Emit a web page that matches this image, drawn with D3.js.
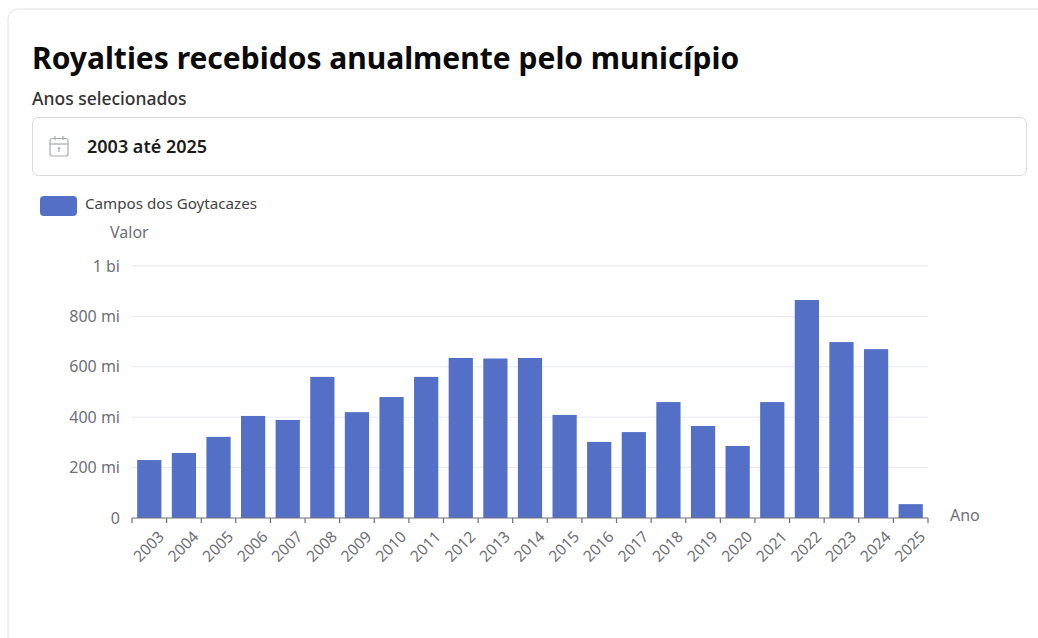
<!DOCTYPE html>
<html>
<head>
<meta charset="utf-8">
<script src="https://cdn.jsdelivr.net/npm/d3@7"></script>
<style>
html, body { margin: 0; padding: 0; background: #fff; overflow: hidden; }
svg { display: block; font-family: "Noto Sans", "Open Sans", sans-serif; }
</style>
</head>
<body>
<svg id="chart" width="1038" height="638"></svg>
<script>
var years = ["2003","2004","2005","2006","2007","2008","2009","2010","2011","2012","2013","2014","2015","2016","2017","2018","2019","2020","2021","2022","2023","2024","2025"];
var values = [230,258,322,405,389,560,420,480,560,635,633,635,409,302,341,460,365,286,460,865,698,670,55];
var yTicks = [0,200,400,600,800,1000];
var yTickLabels = ["0","200 mi","400 mi","600 mi","800 mi","1 bi"];

var svg = d3.select("#chart");
var margin = { top: 266, right: 110, bottom: 120, left: 132 };
var width = +svg.attr("width") - margin.left - margin.right;
var height = +svg.attr("height") - margin.top - margin.bottom;

// card border
svg.append("rect")
	.attr("x", 8).attr("y", 9)
	.attr("width", 1100).attr("height", 700)
	.attr("rx", 10)
	.attr("fill", "#fff")
	.attr("stroke", "#e2e2e2");

svg.append("text")
	.attr("x", 32).attr("y", 69)
	.attr("font-size", 30).attr("font-weight", 700)
	.attr("fill", "#0a0a0a")
	.text("Royalties recebidos anualmente pelo município");

svg.append("text")
	.attr("x", 32).attr("y", 105)
	.attr("font-size", 17.5).attr("font-weight", 500)
	.attr("fill", "#333")
	.text("Anos selecionados");

// date picker
svg.append("rect")
	.attr("x", 32.5).attr("y", 117.5)
	.attr("width", 994).attr("height", 58)
	.attr("rx", 6)
	.attr("fill", "#fff")
	.attr("stroke", "#d9d9d9");

var icon = svg.append("g")
	.attr("transform", "translate(50,136)")
	.attr("fill", "none")
	.attr("stroke", "#a6acb3")
	.attr("stroke-width", 1.2);
icon.append("rect").attr("x", 0).attr("y", 2.5).attr("width", 18).attr("height", 17.5).attr("rx", 2);
icon.append("line").attr("x1", 0).attr("x2", 18).attr("y1", 8).attr("y2", 8);
icon.append("line").attr("x1", 5).attr("x2", 5).attr("y1", 0).attr("y2", 4);
icon.append("line").attr("x1", 13).attr("x2", 13).attr("y1", 0).attr("y2", 4);
icon.append("line").attr("x1", 7.5).attr("x2", 10.5).attr("y1", 12).attr("y2", 12);
icon.append("line").attr("x1", 9).attr("x2", 9).attr("y1", 12).attr("y2", 16);

svg.append("text")
	.attr("x", 87).attr("y", 153)
	.attr("font-size", 18).attr("font-weight", 600)
	.attr("fill", "#1c1c1c")
	.text("2003 até 2025");

// legend
svg.append("rect")
	.attr("x", 40).attr("y", 196)
	.attr("width", 37).attr("height", 20)
	.attr("rx", 4)
	.attr("fill", "#5470c6");
svg.append("text")
	.attr("x", 85).attr("y", 209)
	.attr("font-size", 13.5)
	.attr("fill", "#444")
	.attr("textLength", 172)
	.attr("lengthAdjust", "spacingAndGlyphs")
	.text("Campos dos Goytacazes");

var g = svg.append("g")
	.attr("transform", "translate(" + margin.left + "," + margin.top + ")");

var x = d3.scaleBand().domain(years).range([0, width - 0]).paddingInner(0.3).paddingOuter(0.15);
var y = d3.scaleLinear().domain([0, 1000]).range([height, 0]);

// gridlines
g.append("g")
	.selectAll("line")
	.data(yTicks.slice(1))
	.join("line")
	.attr("x1", 0).attr("x2", width)
	.attr("y1", function(d) { return y(d); })
	.attr("y2", function(d) { return y(d); })
	.attr("stroke", "#e6e9f2");

g.selectAll(".bar")
	.data(values)
	.join("rect")
	.attr("class", "bar")
	.attr("x", function(d, i) { return x(years[i]); })
	.attr("y", function(d) { return y(d); })
	.attr("width", x.bandwidth())
	.attr("height", function(d) { return height - y(d); })
	.attr("fill", "#5470c6");

// y axis
var yAxis = g.append("g")
	.call(d3.axisLeft(y).tickValues(yTicks).tickSize(0).tickPadding(12).tickFormat(function(d, i) { return yTickLabels[i]; }));
yAxis.select(".domain").remove();
yAxis.selectAll("text")
	.attr("font-family", "\"Noto Sans\", sans-serif")
	.attr("font-size", 16)
	.attr("fill", "#6e7079");

// x axis, ticks sit on the band edges
var step = x.step();
var xAxis = g.append("g").attr("transform", "translate(0," + height + ")");
xAxis.append("line")
	.attr("x1", 0).attr("x2", width)
	.attr("stroke", "#6e7079").attr("stroke-width", 1.2);
xAxis.selectAll(".edge")
	.data(d3.range(years.length + 1))
	.join("line")
	.attr("class", "edge")
	.attr("x1", function(d) { return d * step; })
	.attr("x2", function(d) { return d * step; })
	.attr("y1", 0).attr("y2", 5)
	.attr("stroke", "#6e7079").attr("stroke-width", 1.2);
xAxis.selectAll(".year")
	.data(years)
	.join("text")
	.attr("class", "year")
	.attr("text-anchor", "end")
	.attr("font-size", 15.5)
	.attr("fill", "#6e7079")
	.attr("transform", function(d) {
		return "translate(" + (x(d) + x.bandwidth() / 2 + 8) + ",12) rotate(-45)";
	})
	.attr("dy", "0.7em")
	.text(function(d) { return d; });

svg.append("text")
	.attr("x", 110).attr("y", 238)
	.attr("font-size", 16).attr("fill", "#6e7079")
	.text("Valor");
svg.append("text")
	.attr("x", 950).attr("y", 521)
	.attr("font-size", 16).attr("fill", "#6e7079")
	.text("Ano");
</script>
</body>
</html>
